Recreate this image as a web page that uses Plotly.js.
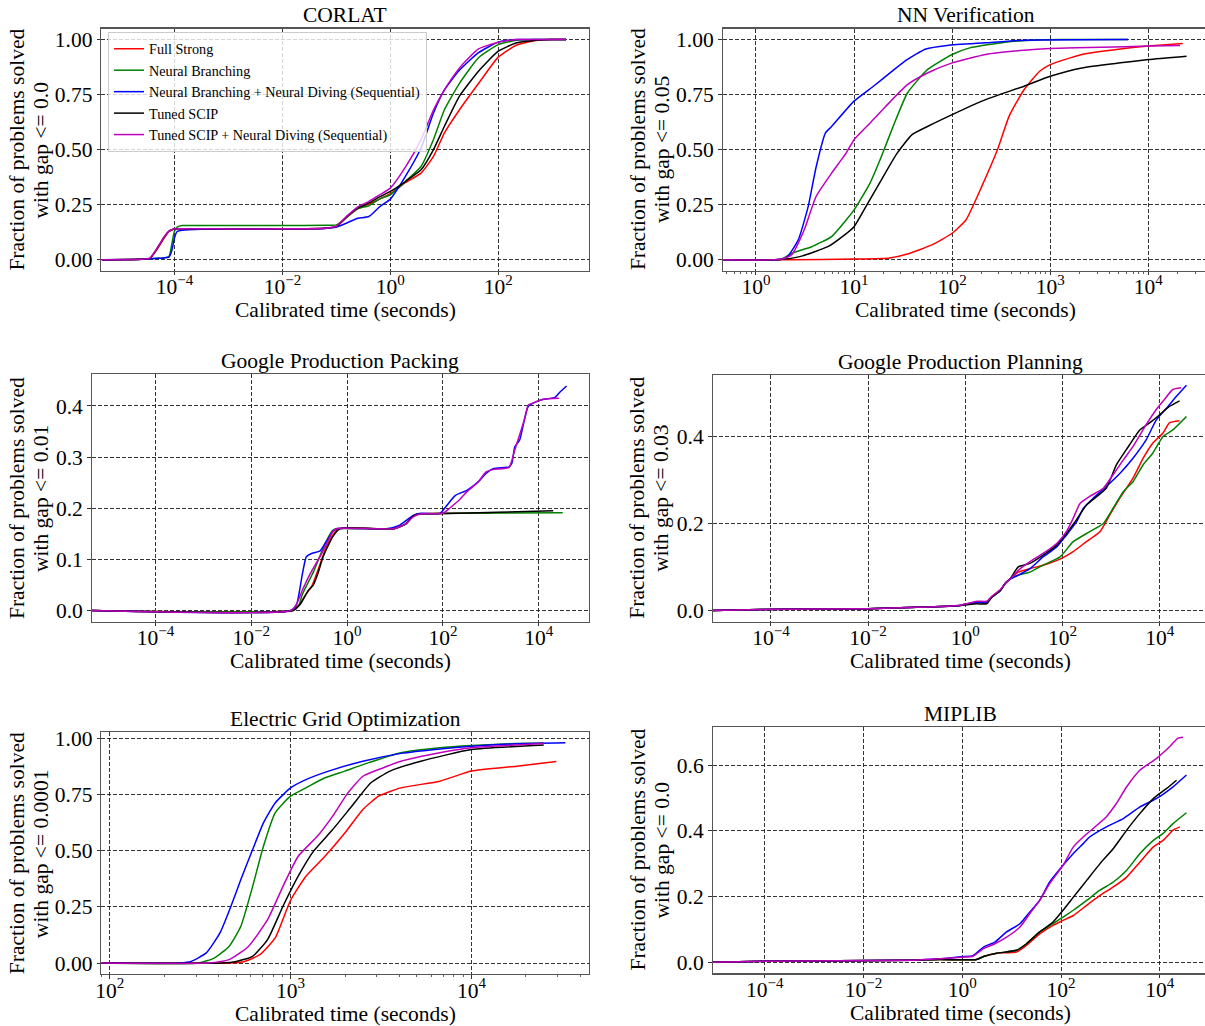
<!DOCTYPE html>
<html>
<head>
<meta charset="utf-8">
<script src="https://cdn.plot.ly/plotly-3.0.1.min.js"></script>
<style>
  html, body { margin: 0; padding: 0; overflow: hidden; background: #ffffff; }
  #chart { width: 1210px; height: 1026px; }
</style>
</head>
<body>
<div id="chart"></div>
<script>
// ---------------------------------------------------------------
// Series names and colours (shared by all six panels)
// ---------------------------------------------------------------
const seriesNames = [
  "Full Strong",
  "Neural Branching",
  "Neural Branching + Neural Diving (Sequential)",
  "Tuned SCIP",
  "Tuned SCIP + Neural Diving (Sequential)"
];
const seriesColors = ["#ff0000", "#008000", "#0000ff", "#000000", "#bf00bf"];

const panelTitles = [
  "CORLAT", "NN Verification", "Google Production Packing",
  "Google Production Planning", "Electric Grid Optimization", "MIPLIB"
];
const gapLabels = ["0.0", "0.05", "0.01", "0.03", "0.0001", "0.0"];
const xTitle = "Calibrated time (seconds)";
const yTitleLine1 = "Fraction of problems solved";

// Tick labels
const wideTickVals = [1e-4, 1e-2, 1, 1e2, 1e4];
const wideTickText = ["10<sup>\u22124</sup>", "10<sup>\u22122</sup>", "10<sup>0</sup>", "10<sup>2</sup>", "10<sup>4</sup>"];
const nnTickVals = [1, 10, 100, 1000, 10000];
const nnTickText = ["10<sup>0</sup>", "10<sup>1</sup>", "10<sup>2</sup>", "10<sup>3</sup>", "10<sup>4</sup>"];
const gridTickVals = [100, 1000, 10000];
const gridTickText = ["10<sup>2</sup>", "10<sup>3</sup>", "10<sup>4</sup>"];

// ---------------------------------------------------------------
// CORLAT (shared time grid, seconds)
// ---------------------------------------------------------------
const corlatTime = [4.5e-6, 2.5e-5, 3.5e-5, 5e-5, 6.3e-5, 7.9e-5, 8.9e-5, 1e-4, 1.12e-4, 1.4e-4, 3.2e-4, 1e-2, 0.063, 0.1, 0.16, 0.25, 0.4, 0.63, 1, 1.9, 3.7, 6.3, 10, 19, 43, 100, 220, 500, 1000, 1800];
const corlatFullStrong      = [0, 0.002, 0.006, 0.055, 0.095, 0.128, 0.135, 0.138, 0.14, 0.14, 0.14, 0.14, 0.143, 0.15, 0.195, 0.232, 0.253, 0.275, 0.30, 0.35, 0.393, 0.469, 0.575, 0.68, 0.80, 0.92, 0.975, 0.995, 1.0, 1.0];
const corlatNeuralBranching = [0, 0.002, 0.004, 0.006, 0.008, 0.015, 0.07, 0.13, 0.148, 0.155, 0.155, 0.155, 0.156, 0.158, 0.196, 0.232, 0.245, 0.275, 0.295, 0.355, 0.423, 0.546, 0.68, 0.80, 0.917, 0.977, 0.997, 1.0, 1.0, 1.0];
const corlatBranchDive      = [0, 0.002, 0.004, 0.006, 0.008, 0.012, 0.04, 0.10, 0.128, 0.134, 0.138, 0.14, 0.142, 0.148, 0.168, 0.188, 0.196, 0.24, 0.275, 0.378, 0.507, 0.666, 0.77, 0.86, 0.94, 0.988, 1.0, 1.0, 1.0, 1.0];
const corlatTunedScip       = [0, 0.002, 0.006, 0.06, 0.10, 0.13, 0.136, 0.139, 0.14, 0.14, 0.14, 0.14, 0.143, 0.15, 0.198, 0.235, 0.258, 0.285, 0.31, 0.355, 0.408, 0.50, 0.605, 0.742, 0.856, 0.947, 0.985, 0.997, 1.0, 1.0];
const corlatScipDive        = [0, 0.002, 0.007, 0.06, 0.10, 0.13, 0.136, 0.139, 0.14, 0.14, 0.14, 0.14, 0.143, 0.152, 0.20, 0.24, 0.265, 0.294, 0.325, 0.42, 0.545, 0.68, 0.77, 0.87, 0.957, 0.988, 1.0, 1.0, 1.0, 1.0];

// ---------------------------------------------------------------
// NN Verification
// ---------------------------------------------------------------
const nnTimeFullStrong = [0.46, 2.3, 10, 23, 35, 62, 100, 138, 200, 290, 380, 540, 780, 1000, 2100, 5200, 10000, 22400];
const nnFullStrong     = [0, 0, 0.003, 0.008, 0.026, 0.067, 0.12, 0.18, 0.332, 0.50, 0.651, 0.772, 0.856, 0.886, 0.932, 0.957, 0.97, 0.982];
const nnTimeNeuralBranching = [0.46, 1.8, 2.3, 3.7, 5.9, 8.3, 10, 14.5, 19, 25, 35, 56, 100, 151, 347, 645, 1350, 6200];
const nnNeuralBranching     = [0, 0.002, 0.029, 0.059, 0.105, 0.18, 0.226, 0.347, 0.469, 0.605, 0.757, 0.863, 0.932, 0.962, 0.988, 0.997, 1.0, 1.0];
const nnTimeBranchDive = [0.46, 1.8, 2.1, 2.7, 3.4, 4.1, 5.1, 5.9, 10, 16, 25, 35, 54, 89, 220, 540, 6200];
const nnBranchDive     = [0, 0.002, 0.014, 0.09, 0.24, 0.42, 0.575, 0.605, 0.72, 0.79, 0.86, 0.91, 0.957, 0.973, 0.985, 0.997, 1.0];
const nnTimeTunedScip = [0.46, 1.8, 2.8, 5.4, 7.6, 10, 13.2, 19, 27.5, 39, 56, 100, 220, 540, 1000, 2100, 5200, 10000, 24500];
const nnTunedScip     = [0, 0.001, 0.014, 0.059, 0.105, 0.15, 0.241, 0.363, 0.484, 0.568, 0.605, 0.659, 0.727, 0.788, 0.833, 0.871, 0.894, 0.909, 0.924];
const nnTimeScipDive = [0.46, 1.8, 2.3, 3.1, 4.1, 5.9, 8.3, 10, 14.5, 21, 35, 56, 100, 220, 540, 1000, 3300, 10000, 21000];
const nnScipDive     = [0, 0.002, 0.021, 0.135, 0.287, 0.393, 0.484, 0.545, 0.62, 0.696, 0.795, 0.848, 0.894, 0.932, 0.951, 0.959, 0.965, 0.97, 0.973];

// ---------------------------------------------------------------
// Google Production Packing
// ---------------------------------------------------------------
const packTimeFullStrong = [4.7e-6, 0.068, 0.098, 0.141, 0.186, 0.245, 0.347, 0.5, 0.66, 9.5, 16.6, 24, 34.7, 219, 1000];
const packFullStrong     = [0, 0, 0.01, 0.033, 0.049, 0.078, 0.118, 0.147, 0.16, 0.16, 0.169, 0.185, 0.189, 0.19, 0.19];
const packTimeNeuralBranching = [4.7e-6, 0.068, 0.098, 0.117, 0.204, 0.347, 0.5, 0.6, 9.5, 16.6, 24, 34.7, 219, 31600];
const packNeuralBranching     = [0, 0, 0.01, 0.032, 0.078, 0.131, 0.157, 0.16, 0.16, 0.169, 0.185, 0.189, 0.19, 0.191];
const packTimeBranchDive = [4.7e-6, 0.068, 0.089, 0.117, 0.141, 0.186, 0.269, 0.347, 0.5, 0.6, 6.6, 12.6, 24, 34.7, 87, 115, 182, 316, 550, 794, 1150, 2400, 2750, 3160, 3980, 5010, 6030, 8710, 12600, 21900, 26300, 38000];
const packBranchDive     = [0, 0, 0.013, 0.072, 0.105, 0.112, 0.116, 0.131, 0.154, 0.16, 0.16, 0.167, 0.186, 0.19, 0.19, 0.203, 0.225, 0.235, 0.252, 0.268, 0.278, 0.281, 0.288, 0.32, 0.333, 0.373, 0.399, 0.408, 0.413, 0.417, 0.425, 0.439];
const packTimeTunedScip = [4.7e-6, 0.076, 0.107, 0.155, 0.195, 0.245, 0.316, 0.5, 0.72, 9.5, 16.6, 24, 34.7, 219, 1380, 20000];
const packTunedScip     = [0, 0, 0.013, 0.039, 0.049, 0.072, 0.105, 0.144, 0.16, 0.16, 0.169, 0.185, 0.189, 0.19, 0.192, 0.195];
const packTimeScipDive = [4.7e-6, 0.068, 0.089, 0.117, 0.17, 0.245, 0.347, 0.5, 0.6, 9.5, 16.6, 24, 34.7, 100, 138, 219, 316, 550, 794, 1150, 2400, 3160, 5010, 6030, 8710, 12600, 26300];
const packScipDive     = [0, 0, 0.013, 0.04, 0.072, 0.098, 0.124, 0.154, 0.16, 0.16, 0.169, 0.183, 0.189, 0.19, 0.20, 0.216, 0.232, 0.252, 0.271, 0.276, 0.28, 0.314, 0.373, 0.402, 0.408, 0.413, 0.415];

// ---------------------------------------------------------------
// Google Production Planning
// ---------------------------------------------------------------
const planTimeFullStrong = [6.3e-6, 6.3e-5, 0.01, 0.1, 0.316, 0.79, 1.74, 2.75, 3.55, 5.25, 6.6, 8.3, 12.3, 21.4, 39.8, 89, 166, 309, 589, 933, 1510, 2820, 4570, 7240, 11700, 15800, 25700];
const planFullStrong     = [0, 0.002, 0.004, 0.007, 0.009, 0.0115, 0.019, 0.018, 0.031, 0.046, 0.062, 0.072, 0.088, 0.096, 0.104, 0.118, 0.135, 0.158, 0.181, 0.219, 0.258, 0.304, 0.35, 0.385, 0.408, 0.431, 0.436];
const planTimeNeuralBranching = [6.3e-6, 6.3e-5, 0.01, 0.1, 0.316, 0.79, 1.74, 2.75, 3.55, 5.25, 6.6, 8.3, 12.3, 21.4, 39.8, 89, 166, 363, 692, 1100, 1780, 2820, 4570, 7240, 11700, 18600, 35500];
const planNeuralBranching     = [0, 0.002, 0.004, 0.007, 0.009, 0.0115, 0.019, 0.018, 0.031, 0.046, 0.062, 0.072, 0.081, 0.088, 0.104, 0.123, 0.158, 0.181, 0.2, 0.235, 0.273, 0.296, 0.335, 0.362, 0.4, 0.415, 0.446];
const planTimeBranchDive = [6.3e-6, 6.3e-5, 0.01, 0.1, 0.316, 0.79, 1.74, 2.75, 3.55, 5.25, 6.6, 8.3, 12.3, 21.4, 39.8, 75.9, 120, 195, 269, 427, 794, 1510, 2820, 5250, 8510, 13800, 21900, 35500];
const planBranchDive     = [0, 0.002, 0.004, 0.007, 0.009, 0.0115, 0.019, 0.018, 0.031, 0.046, 0.062, 0.072, 0.081, 0.096, 0.123, 0.146, 0.173, 0.204, 0.235, 0.258, 0.285, 0.315, 0.35, 0.392, 0.438, 0.465, 0.492, 0.518];
const planTimeTunedScip = [6.3e-6, 6.3e-5, 0.01, 0.1, 0.316, 0.79, 1.74, 2.75, 3.55, 5.25, 6.6, 8.3, 12.3, 21.4, 39.8, 75.9, 120, 182, 309, 794, 1290, 2040, 3890, 6170, 10000, 15800, 25700];
const planTunedScip     = [0, 0.002, 0.004, 0.007, 0.009, 0.0115, 0.015, 0.015, 0.031, 0.046, 0.062, 0.072, 0.1, 0.108, 0.127, 0.15, 0.177, 0.204, 0.242, 0.281, 0.335, 0.369, 0.415, 0.431, 0.45, 0.469, 0.482];
const planTimeScipDive = [6.3e-6, 6.3e-5, 0.01, 0.1, 0.316, 0.79, 1.74, 2.75, 3.55, 5.25, 6.6, 8.3, 12.3, 21.4, 39.8, 75.9, 120, 166, 229, 363, 692, 1100, 1780, 2820, 5250, 8510, 11700, 18600, 27500];
const planScipDive     = [0, 0.002, 0.004, 0.007, 0.009, 0.012, 0.021, 0.021, 0.033, 0.048, 0.062, 0.072, 0.092, 0.112, 0.131, 0.154, 0.181, 0.212, 0.246, 0.262, 0.281, 0.312, 0.346, 0.377, 0.427, 0.462, 0.481, 0.508, 0.512];

// ---------------------------------------------------------------
// Electric Grid Optimization
// ---------------------------------------------------------------
const elecTimeFullStrong = [90, 457, 557, 676, 822, 1000, 1216, 1549, 1995, 2512, 3069, 4074, 6683, 10000, 17800, 29500];
const elecFullStrong     = [0, 0, 0.007, 0.037, 0.112, 0.28, 0.387, 0.476, 0.58, 0.685, 0.744, 0.781, 0.811, 0.856, 0.878, 0.899];
const elecTimeNeuralBranching = [90, 309, 378, 457, 531, 617, 708, 822, 1000, 1216, 1549, 1995, 2512, 4074, 6683, 10000, 17800, 25100];
const elecNeuralBranching     = [0, 0, 0.022, 0.074, 0.164, 0.342, 0.521, 0.67, 0.744, 0.781, 0.826, 0.856, 0.885, 0.938, 0.96, 0.97, 0.979, 0.981];
const elecTimeBranchDive = [90, 243, 282, 342, 407, 468, 531, 617, 708, 822, 1000, 1216, 1622, 2512, 4074, 6683, 10000, 17800, 33100];
const elecBranchDive     = [0, 0, 0.007, 0.045, 0.134, 0.253, 0.372, 0.506, 0.625, 0.714, 0.781, 0.818, 0.856, 0.90, 0.935, 0.955, 0.967, 0.978, 0.982];
const elecTimeTunedScip = [90, 417, 501, 617, 746, 908, 1102, 1340, 1710, 2183, 2780, 3548, 5248, 10000, 25100];
const elecTunedScip     = [0, 0, 0.007, 0.03, 0.104, 0.253, 0.387, 0.499, 0.595, 0.70, 0.804, 0.856, 0.90, 0.952, 0.972];
const elecTimeScipDive = [90, 347, 457, 585, 746, 908, 1102, 1406, 1710, 2075, 2512, 3236, 4074, 6683, 10000, 25100];
const elecScipDive     = [0, 0, 0.015, 0.074, 0.193, 0.342, 0.476, 0.565, 0.655, 0.759, 0.833, 0.87, 0.90, 0.938, 0.96, 0.979];

// ---------------------------------------------------------------
// MIPLIB
// ---------------------------------------------------------------
const mipTimeFullStrong = [8.9e-6, 1e-4, 0.1, 0.35, 1, 1.95, 2.7, 5, 12.6, 20, 37, 69, 110, 178, 331, 617, 1150, 2140, 3980, 7410, 11700, 18600, 25700];
const mipFullStrong     = [0, 0.003, 0.006, 0.008, 0.007, 0.008, 0.017, 0.027, 0.031, 0.051, 0.086, 0.112, 0.127, 0.142, 0.173, 0.203, 0.229, 0.259, 0.305, 0.351, 0.371, 0.402, 0.412];
const mipTimeNeuralBranching = [8.9e-6, 1e-4, 0.1, 0.35, 1, 1.95, 2.7, 5, 12.6, 20, 37, 69, 110, 178, 331, 617, 1150, 2140, 3980, 7410, 11700, 18600, 34700];
const mipNeuralBranching     = [0, 0.003, 0.006, 0.008, 0.007, 0.008, 0.017, 0.027, 0.036, 0.056, 0.092, 0.117, 0.137, 0.158, 0.188, 0.219, 0.244, 0.28, 0.331, 0.371, 0.392, 0.422, 0.455];
const mipTimeBranchDive = [8.9e-6, 1e-4, 0.1, 0.35, 1, 1.66, 2.7, 4.6, 7.9, 14.8, 23.4, 37, 59, 110, 178, 282, 380, 832, 1820, 3980, 8510, 18600, 34700];
const mipBranchDive     = [0, 0.003, 0.006, 0.01, 0.017, 0.02, 0.046, 0.061, 0.092, 0.117, 0.153, 0.188, 0.244, 0.295, 0.331, 0.361, 0.381, 0.412, 0.437, 0.473, 0.498, 0.534, 0.57];
const mipTimeTunedScip = [8.9e-6, 1e-4, 0.1, 0.35, 1, 1.95, 2.7, 5, 12.6, 20, 37, 69, 110, 178, 331, 617, 1150, 2140, 3980, 7410, 13800, 21900];
const mipTunedScip     = [0, 0.003, 0.006, 0.008, 0.007, 0.008, 0.017, 0.027, 0.036, 0.056, 0.092, 0.122, 0.158, 0.198, 0.249, 0.30, 0.346, 0.402, 0.453, 0.498, 0.529, 0.554];
const mipTimeScipDive = [8.9e-6, 1e-4, 0.1, 0.35, 1, 1.66, 2.7, 4.6, 7.9, 14.8, 23.4, 37, 59, 110, 178, 282, 447, 832, 1320, 2140, 3980, 8510, 15800, 23400, 29500];
const mipScipDive     = [0, 0.003, 0.006, 0.01, 0.015, 0.018, 0.041, 0.056, 0.076, 0.107, 0.148, 0.188, 0.239, 0.295, 0.351, 0.381, 0.407, 0.443, 0.483, 0.534, 0.585, 0.62, 0.656, 0.682, 0.685];

// Panel -> list of [times, fractions] per series, in legend order
const panelSeries = [
  [[corlatTime, corlatFullStrong], [corlatTime, corlatNeuralBranching], [corlatTime, corlatBranchDive], [corlatTime, corlatTunedScip], [corlatTime, corlatScipDive]],
  [[nnTimeFullStrong, nnFullStrong], [nnTimeNeuralBranching, nnNeuralBranching], [nnTimeBranchDive, nnBranchDive], [nnTimeTunedScip, nnTunedScip], [nnTimeScipDive, nnScipDive]],
  [[packTimeFullStrong, packFullStrong], [packTimeNeuralBranching, packNeuralBranching], [packTimeBranchDive, packBranchDive], [packTimeTunedScip, packTunedScip], [packTimeScipDive, packScipDive]],
  [[planTimeFullStrong, planFullStrong], [planTimeNeuralBranching, planNeuralBranching], [planTimeBranchDive, planBranchDive], [planTimeTunedScip, planTunedScip], [planTimeScipDive, planScipDive]],
  [[elecTimeFullStrong, elecFullStrong], [elecTimeNeuralBranching, elecNeuralBranching], [elecTimeBranchDive, elecBranchDive], [elecTimeTunedScip, elecTunedScip], [elecTimeScipDive, elecScipDive]],
  [[mipTimeFullStrong, mipFullStrong], [mipTimeNeuralBranching, mipNeuralBranching], [mipTimeBranchDive, mipBranchDive], [mipTimeTunedScip, mipTunedScip], [mipTimeScipDive, mipScipDive]]
];

// ---------------------------------------------------------------
// Geometry (pixel boxes of each axes) and axis settings
// ---------------------------------------------------------------
const W = 1210, H = 1026;
const fx = px => px / W;
const fy = py => 1 - py / H;

const panelGeom = [
  { x0: 101.4, x1: 588.6, y0: 28.5,  y1: 270.7, xr: [-5.355, 3.674], yr: [-0.05, 1.05],   dt: 0.25, fmt: ".2f", tv: wideTickVals, tt: wideTickText, minor: false },
  { x0: 722.7, x1: 1209,  y0: 28.5,  y1: 270.7, xr: [-0.339, 4.618], yr: [-0.05, 1.05],   dt: 0.25, fmt: ".2f", tv: nnTickVals,   tt: nnTickText,   minor: true },
  { x0: 91.8,  x1: 588.6, y0: 374.3, y1: 621.7, xr: [-5.328, 5.04],  yr: [-0.022, 0.462], dt: 0.1,  fmt: ".1f", tv: wideTickVals, tt: wideTickText, minor: false },
  { x0: 712.7, x1: 1209,  y0: 374.7, y1: 621.7, xr: [-5.198, 5.014], yr: [-0.026, 0.542], dt: 0.2,  fmt: ".1f", tv: wideTickVals, tt: wideTickText, minor: false },
  { x0: 101.4, x1: 588.6, y0: 732.3, y1: 974,   xr: [1.954, 4.648],  yr: [-0.049, 1.029], dt: 0.25, fmt: ".2f", tv: gridTickVals, tt: gridTickText, minor: true },
  { x0: 712.7, x1: 1209,  y0: 726.7, y1: 973.3, xr: [-5.053, 4.997], yr: [-0.034, 0.717], dt: 0.2,  fmt: ".1f", tv: wideTickVals, tt: wideTickText, minor: false }
];

const FONT = "'Liberation Serif', 'Times New Roman', serif";
const TICK_SIZE = 21.5;
const spine = { showline: true, linecolor: "#555555", linewidth: 1.2, mirror: true };
const gridStyle = { showgrid: true, gridcolor: "#1e1e1e", gridwidth: 0.9, griddash: "4px,2px", zeroline: false };
const tickStyle = { ticks: "outside", ticklen: 3.5, tickwidth: 1, tickcolor: "#333333",
                    tickfont: { family: FONT, size: TICK_SIZE, color: "#000000" } };

// minor tick positions (2..9 within each decade) for the panels that show them
function minorTicks(lo, hi) {
  const out = [];
  for (let e = Math.floor(lo); e <= Math.ceil(hi); e++) {
    for (let m = 2; m <= 9; m++) {
      const v = m * Math.pow(10, e);
      const lv = Math.log10(v);
      if (lv > lo && lv < hi) out.push(v);
    }
  }
  return out;
}

const traces = [];
const layout = {
  width: W, height: H, autosize: false,
  margin: { l: 0, r: 0, t: 0, b: 0, pad: 0 },
  paper_bgcolor: "#ffffff", plot_bgcolor: "#ffffff",
  font: { family: FONT, color: "#000000" },
  showlegend: true,
  legend: {
    x: fx(108), y: fy(32), xanchor: "left", yanchor: "top",
    bgcolor: "rgba(255,255,255,0.8)", bordercolor: "#cccccc", borderwidth: 1,
    font: { family: FONT, size: 14.2, color: "#000000" },
    itemwidth: 30, tracegroupgap: 0
  },
  annotations: []
};

panelGeom.forEach((g, i) => {
  const n = i + 1;
  const xk = n === 1 ? "xaxis" : "xaxis" + n;
  const yk = n === 1 ? "yaxis" : "yaxis" + n;
  const xa = n === 1 ? "x" : "x" + n;
  const ya = n === 1 ? "y" : "y" + n;

  layout[xk] = Object.assign({
    type: "log", domain: [fx(g.x0), fx(g.x1)], range: g.xr, anchor: ya,
    tickmode: "array", tickvals: g.tv, ticktext: g.tt, fixedrange: true,
    ticklabelstandoff: -7
  }, spine, gridStyle, tickStyle);
  if (g.minor) {
    layout[xk].minor = { ticks: "outside", ticklen: 2, tickwidth: 0.8, tickcolor: "#333333",
                         tickmode: "array", tickvals: minorTicks(g.xr[0], g.xr[1]), showgrid: false };
  }
  layout[yk] = Object.assign({
    domain: [fy(g.y1), fy(g.y0)], range: g.yr, anchor: xa,
    tick0: 0, dtick: g.dt, tickformat: g.fmt, fixedrange: true
  }, spine, gridStyle, tickStyle);

  panelSeries[i].forEach((s, k) => {
    traces.push({
      type: "scatter", mode: "lines",
      x: s[0], y: s[1],
      xaxis: xa, yaxis: ya,
      name: seriesNames[k], legendgroup: seriesNames[k],
      showlegend: i === 0,
      line: { color: seriesColors[k], width: 1.5, shape: "spline", smoothing: 0.5 },
      hoverinfo: "skip"
    });
  });

  const cx = (g.x0 + g.x1) / 2;
  const cy = (g.y0 + g.y1) / 2;
  const leftCol = g.x0 < 300;
  const base = { xref: "paper", yref: "paper", showarrow: false,
                 font: { family: FONT, size: TICK_SIZE, color: "#000000" } };
  // panel title
  layout.annotations.push(Object.assign({}, base, {
    text: panelTitles[i], x: fx(cx), y: fy(g.y0 - 13.2), xanchor: "center", yanchor: "middle"
  }));
  // x-axis title
  layout.annotations.push(Object.assign({}, base, {
    text: xTitle, x: fx(cx), y: fy(g.y1 + 39.5), xanchor: "center", yanchor: "middle"
  }));
  // y-axis title, two lines
  const l1 = leftCol ? 17 : 637.5;
  const l2 = leftCol ? 41 : 661.5;
  layout.annotations.push(Object.assign({}, base, {
    text: yTitleLine1, textangle: -90, x: fx(l1), y: fy(cy), xanchor: "center", yanchor: "middle"
  }));
  layout.annotations.push(Object.assign({}, base, {
    text: "with gap &lt;= " + gapLabels[i], textangle: -90, x: fx(l2), y: fy(cy), xanchor: "center", yanchor: "middle"
  }));
});

Plotly.newPlot("chart", traces, layout, { staticPlot: true, displayModeBar: false });
</script>
</body>
</html>
